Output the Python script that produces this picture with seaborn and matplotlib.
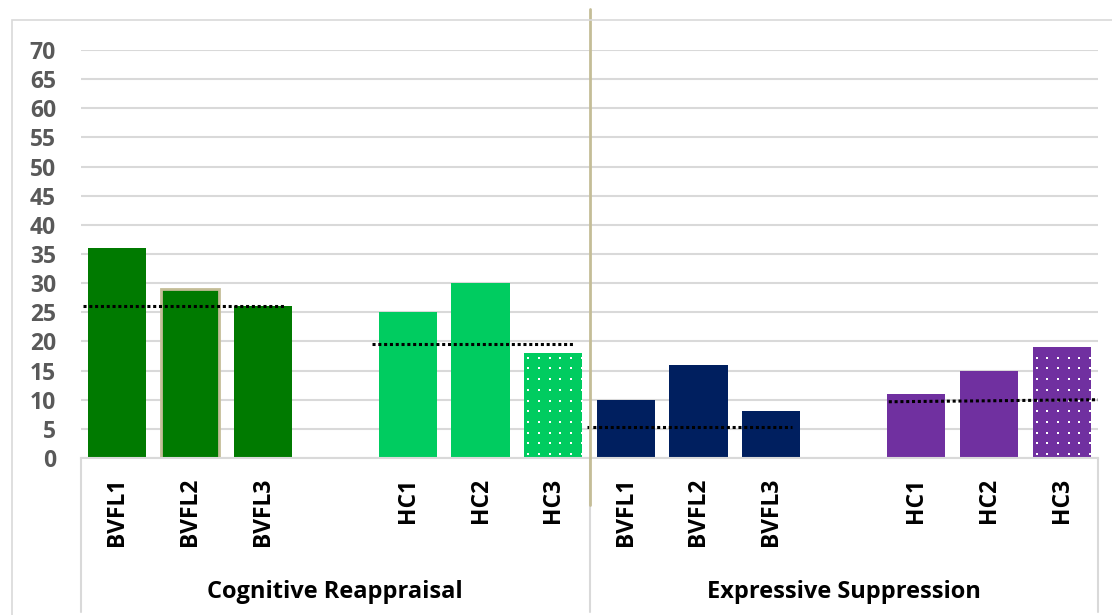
import matplotlib
matplotlib.use("Agg")
import matplotlib.pyplot as plt
import matplotlib.transforms as mtransforms
from matplotlib.patches import Rectangle
import numpy as np
import seaborn as sns
import pandas as pd

# Group layout: two strategies, each with three BVFL and three HC participants,
# separated by an empty slot
strategies = ["Cognitive Reappraisal", "Expressive Suppression"]
participants = ["BVFL1", "BVFL2", "BVFL3", "", "HC1", "HC2", "HC3"]

# Scores per strategy (None = empty spacer slot)
reappraisal_scores = [36, 29, 26, None, 25, 30, 18]
suppression_scores = [10, 16, 8, None, 11, 15, 19]

# Reference levels (start, end) drawn as dotted lines over each subgroup
reappraisal_refs = [(26.0, 26.0), (19.6, 19.6)]
suppression_refs = [(5.3, 5.3), (9.65, 10.0)]

# Bar colours per slot
reappraisal_colors = ["#007A00", "#007A00", "#007A00", None, "#00CC60", "#00CC60", "#00CC60"]
suppression_colors = ["#001F5F", "#001F5F", "#001F5F", None, "#7030A0", "#7030A0", "#7030A0"]

# Build a tidy table with a unique slot key per bar
rows = []
order = []
palette = {}
tick_labels = []
for s_i, (strategy, scores, cols) in enumerate(
        zip(strategies, [reappraisal_scores, suppression_scores],
            [reappraisal_colors, suppression_colors])):
    for p_i, (p, v, c) in enumerate(zip(participants, scores, cols)):
        key = f"{s_i}-{p_i}"
        order.append(key)
        tick_labels.append(p)
        if v is not None:
            rows.append({"slot": key, "score": v})
            palette[key] = c
df = pd.DataFrame(rows)

sns.set_theme(style="white")
plt.rcParams["font.family"] = ["Open Sans", "DejaVu Sans"]

W, H = 1112, 615
fig = plt.figure(figsize=(W / 100, H / 100), dpi=100)
ax = fig.add_axes([81 / W, 1 - 458 / H, (1098 - 81) / W, (458 - 50) / H])

sns.barplot(data=df, x="slot", y="score", hue="slot", order=order,
            hue_order=[k for k in order if k in palette], palette=palette,
            width=0.8, saturation=1, legend=False, ax=ax, linewidth=0)

ax.set_xlim(-0.5, len(order) - 0.5)
ax.set_ylim(0, 70)

# Styling of individual bars: outline on BVFL2, white dot texture on HC3
present = [k for k in order if k in palette]
bars = dict(zip(present, [p for p in ax.patches if p.get_height() > 0]))
dot_step = 10.7  # texture spacing in pixels
for key, patch in bars.items():
    s_i, p_i = map(int, key.split("-"))
    if s_i == 0 and p_i == 1:
        patch.set_edgecolor("#C4BD97")
        patch.set_linewidth(2)
    if p_i == 6:
        # dot grid in display space, clipped to the bar outline
        (px0, py0), (px1, py1) = ax.transData.transform(
            [(patch.get_x(), 0), (patch.get_x() + patch.get_width(), patch.get_height())])
        gx = np.arange(px0 + 4, px1, dot_step)
        gy = np.arange(py0 + 4, py1, dot_step)
        xx, yy = np.meshgrid(gx, gy)
        pts = ax.transData.inverted().transform(np.column_stack([xx.ravel(), yy.ravel()]))
        sc = ax.scatter(pts[:, 0], pts[:, 1], s=4, marker="s", color="white",
                        linewidths=0, zorder=patch.get_zorder() + 0.1)
        sc.set_clip_path(patch)

# Dotted reference lines over each subgroup (spans in slot units)
ref_spans = [[(-0.47, 2.32), (3.5, 6.3)], [(6.47, 9.29), (10.62, 13.5)]]
for refs, spans in zip([reappraisal_refs, suppression_refs], ref_spans):
    for (lv0, lv1), (x0, x1) in zip(refs, spans):
        ax.plot([x0, x1], [lv0, lv1], color="black", lw=2.2,
                linestyle=(0, (1, 0.9)), solid_capstyle="butt",
                dash_capstyle="butt", zorder=5, clip_on=False)

ax.set_yticks(range(0, 71, 5))
ax.yaxis.grid(True, color="#D9D9D9", lw=1.5)
ax.set_axisbelow(True)
for side in ["left", "right", "top"]:
    ax.spines[side].set_visible(False)
ax.spines["bottom"].set_color("#D9D9D9")
ax.spines["bottom"].set_linewidth(1.5)

ax.set_xticks(range(len(order)))
ax.set_xticklabels(tick_labels, rotation=90, fontsize=16.5, fontweight="bold",
                   color="black")
ax.tick_params(axis="x", length=0, pad=14)
ax.tick_params(axis="y", length=0, pad=18, labelsize=16.5, labelcolor="#595959")
for lbl in ax.get_yticklabels():
    lbl.set_fontweight("bold")
ax.set_xlabel("")
ax.set_ylabel("")

# Strategy labels and separators below the axis
trans = mtransforms.blended_transform_factory(ax.transData, ax.transAxes)
axh = 458 - 50
for s_i, strategy in enumerate(strategies):
    ax.text(s_i * 7 + 3, -(592 - 458) / axh, strategy, transform=trans,
            ha="center", va="center", fontsize=17, fontweight="bold",
            color="black")
for xs in [-0.5, 6.5, 13.5]:
    ax.plot([xs, xs], [0, -(612 - 458) / axh], transform=trans,
            color="#D9D9D9", lw=1.5, clip_on=False)
# Divider between the two strategies
ax.plot([6.5, 6.5], [(458 - 9) / axh, -(505 - 458) / axh], transform=trans,
        color="#C4BD97", lw=2, clip_on=False, zorder=6)

# Outer chart frame
fig.patches.append(Rectangle((12 / W, -0.05), 1.1, 1 - 20 / H + 0.05,
                             transform=fig.transFigure, fill=False,
                             edgecolor="#D9D9D9", lw=1.2))

fig.savefig("out.png", dpi=100, facecolor="white")
